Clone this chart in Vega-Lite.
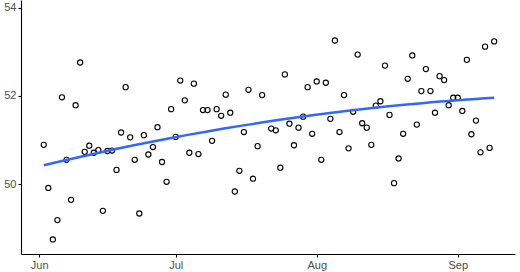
{
  "$schema": "https://vega.github.io/schema/vega-lite/v6.json",
  "width": 494,
  "height": 254,
  "autosize": "none",
  "padding": {"left": 21, "top": 0, "right": 5, "bottom": 18},
  "background": "white",
  "config": {
    "view": {"stroke": null},
    "font": "Liberation Sans",
    "axis": {
      "grid": false,
      "domainColor": "black",
      "domainWidth": 1.1,
      "tickColor": "black",
      "tickWidth": 1.1,
      "tickSize": 3,
      "labelColor": "#4d4d4d",
      "labelFontSize": 11,
      "labelPadding": 2,
      "title": null
    }
  },
  "data": {
    "values": [
      {"date": "2023-06-02", "value": 50.89},
      {"date": "2023-06-03", "value": 49.91},
      {"date": "2023-06-04", "value": 48.74},
      {"date": "2023-06-05", "value": 49.18},
      {"date": "2023-06-06", "value": 51.97},
      {"date": "2023-06-07", "value": 50.55},
      {"date": "2023-06-08", "value": 49.64},
      {"date": "2023-06-09", "value": 51.79},
      {"date": "2023-06-10", "value": 52.76},
      {"date": "2023-06-11", "value": 50.73},
      {"date": "2023-06-12", "value": 50.87},
      {"date": "2023-06-13", "value": 50.71},
      {"date": "2023-06-14", "value": 50.77},
      {"date": "2023-06-15", "value": 49.39},
      {"date": "2023-06-16", "value": 50.75},
      {"date": "2023-06-17", "value": 50.76},
      {"date": "2023-06-18", "value": 50.32},
      {"date": "2023-06-19", "value": 51.17},
      {"date": "2023-06-20", "value": 52.20},
      {"date": "2023-06-21", "value": 51.06},
      {"date": "2023-06-22", "value": 50.55},
      {"date": "2023-06-23", "value": 49.33},
      {"date": "2023-06-24", "value": 51.11},
      {"date": "2023-06-25", "value": 50.67},
      {"date": "2023-06-26", "value": 50.84},
      {"date": "2023-06-27", "value": 51.29},
      {"date": "2023-06-28", "value": 50.50},
      {"date": "2023-06-29", "value": 50.05},
      {"date": "2023-06-30", "value": 51.70},
      {"date": "2023-07-01", "value": 51.07},
      {"date": "2023-07-02", "value": 52.35},
      {"date": "2023-07-03", "value": 51.90},
      {"date": "2023-07-04", "value": 50.71},
      {"date": "2023-07-05", "value": 52.28},
      {"date": "2023-07-06", "value": 50.68},
      {"date": "2023-07-07", "value": 51.68},
      {"date": "2023-07-08", "value": 51.68},
      {"date": "2023-07-09", "value": 50.98},
      {"date": "2023-07-10", "value": 51.70},
      {"date": "2023-07-11", "value": 51.55},
      {"date": "2023-07-12", "value": 52.03},
      {"date": "2023-07-13", "value": 51.62},
      {"date": "2023-07-14", "value": 49.83},
      {"date": "2023-07-15", "value": 50.30},
      {"date": "2023-07-16", "value": 51.18},
      {"date": "2023-07-17", "value": 52.14},
      {"date": "2023-07-18", "value": 50.12},
      {"date": "2023-07-19", "value": 50.86},
      {"date": "2023-07-20", "value": 52.02},
      {"date": "2023-07-22", "value": 51.26},
      {"date": "2023-07-23", "value": 51.22},
      {"date": "2023-07-24", "value": 50.37},
      {"date": "2023-07-25", "value": 52.49},
      {"date": "2023-07-26", "value": 51.37},
      {"date": "2023-07-27", "value": 50.88},
      {"date": "2023-07-28", "value": 51.28},
      {"date": "2023-07-29", "value": 51.53},
      {"date": "2023-07-30", "value": 52.20},
      {"date": "2023-07-31", "value": 51.14},
      {"date": "2023-08-01", "value": 52.33},
      {"date": "2023-08-02", "value": 50.55},
      {"date": "2023-08-03", "value": 52.30},
      {"date": "2023-08-04", "value": 51.48},
      {"date": "2023-08-05", "value": 53.26},
      {"date": "2023-08-06", "value": 51.18},
      {"date": "2023-08-07", "value": 52.02},
      {"date": "2023-08-08", "value": 50.81},
      {"date": "2023-08-09", "value": 51.64},
      {"date": "2023-08-10", "value": 52.94},
      {"date": "2023-08-11", "value": 51.38},
      {"date": "2023-08-12", "value": 51.28},
      {"date": "2023-08-13", "value": 50.89},
      {"date": "2023-08-14", "value": 51.78},
      {"date": "2023-08-15", "value": 51.88},
      {"date": "2023-08-16", "value": 52.69},
      {"date": "2023-08-17", "value": 51.57},
      {"date": "2023-08-18", "value": 50.02},
      {"date": "2023-08-19", "value": 50.58},
      {"date": "2023-08-20", "value": 51.14},
      {"date": "2023-08-21", "value": 52.39},
      {"date": "2023-08-22", "value": 52.92},
      {"date": "2023-08-23", "value": 51.35},
      {"date": "2023-08-24", "value": 52.11},
      {"date": "2023-08-25", "value": 52.61},
      {"date": "2023-08-26", "value": 52.11},
      {"date": "2023-08-27", "value": 51.62},
      {"date": "2023-08-28", "value": 52.45},
      {"date": "2023-08-29", "value": 52.36},
      {"date": "2023-08-30", "value": 51.79},
      {"date": "2023-08-31", "value": 51.96},
      {"date": "2023-09-01", "value": 51.96},
      {"date": "2023-09-02", "value": 51.66},
      {"date": "2023-09-03", "value": 52.82},
      {"date": "2023-09-04", "value": 51.13},
      {"date": "2023-09-05", "value": 51.44},
      {"date": "2023-09-06", "value": 50.72},
      {"date": "2023-09-07", "value": 53.12},
      {"date": "2023-09-08", "value": 50.82},
      {"date": "2023-09-09", "value": 53.24}
    ]
  },
  "transform": [{"calculate": "toDate(datum.date)", "as": "t"}],
  "encoding": {
    "x": {
      "field": "t",
      "type": "temporal",
      "scale": {
        "type": "utc",
        "domain": [
          {"year": 2023, "month": 5, "date": 28, "utc": true},
          {"year": 2023, "month": 9, "date": 13, "hours": 14, "utc": true}
        ],
        "nice": false
      },
      "axis": {
        "format": "%b",
        "values": [
          {"year": 2023, "month": 6, "date": 1, "utc": true},
          {"year": 2023, "month": 7, "date": 1, "utc": true},
          {"year": 2023, "month": 8, "date": 1, "utc": true},
          {"year": 2023, "month": 9, "date": 1, "utc": true}
        ]
      }
    },
    "y": {
      "field": "value",
      "type": "quantitative",
      "scale": {"domain": [48.41, 54.18], "nice": false, "zero": false},
      "axis": {"values": [50, 52, 54]}
    }
  },
  "layer": [
    {
      "mark": {"type": "point", "shape": "circle", "filled": false, "stroke": "black", "strokeWidth": 1.1, "size": 27, "opacity": 1}
    },
    {
      "transform": [
        {"calculate": "(toNumber(datum.t) - 1685664000000) / 86400000", "as": "tn"},
        {"regression": "value", "on": "tn", "method": "poly", "order": 2},
        {"calculate": "toDate(datum.tn * 86400000 + 1685664000000)", "as": "t"}
      ],
      "mark": {"type": "line", "color": "#3366FF", "strokeWidth": 2.5}
    }
  ]
}
